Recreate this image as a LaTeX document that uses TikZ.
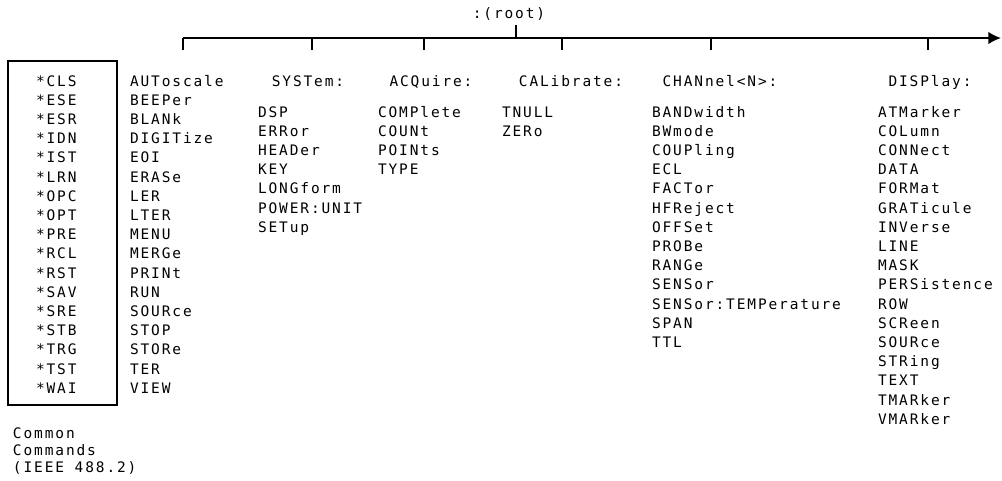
\documentclass[tikz,border=0pt]{standalone}
\usepackage{fontspec}
\usepackage{tikz}
\usetikzlibrary{arrows.meta,positioning}
\newfontfamily\hpfont[LetterSpace=13]{DejaVu Sans Mono}

\begin{document}
\begin{tikzpicture}[x=0.025cm, y=-0.025cm,
    every node/.style={inner sep=0pt, outer sep=0pt},
    cmd/.style={anchor=base west, font=\hpfont\fontsize{10.3pt}{12pt}\selectfont},
    hdr/.style={anchor=base, font=\hpfont\fontsize{10.3pt}{12pt}\selectfont},
    tick/.style={line width=0.8pt},
    bus/.style={line width=1.4pt, -{Latex[length=9pt, width=9pt]}}]
    \fill[white] (0,0) rectangle (1002,481);
    \useasboundingbox (0,0) rectangle (1002,481);

    % root of the tree and the bus line
    \node[hdr] (root) at (509,18) {:(root)};
    \coordinate (bus-l) at (183,38);
    \coordinate (bus-r) at (1001,38);
    \coordinate (root-tick) at (516,25);
    \draw[bus] (bus-l) -- (bus-r);
    \draw[tick] (root-tick) -- (root-tick |- bus-l);

    % ticks down to the subsystems
    \foreach \n/\x in {auto/183, sys/312, acq/424, cal/562, chan/711, disp/928} {
        \coordinate (\n-top) at (\x,38);
        \draw[tick] (\n-top) -- ++(0,12);
    }

    % subsystem headings
    \node[hdr] (sys-head) at (308,86) {SYSTem:};
    \node[hdr] (acq-head) at (431,86) {ACQuire:};
    \node[hdr] (cal-head) at (571,86) {CALibrate:};
    \node[hdr] (chan-head) at (720,86) {CHANnel<N>:};
    \node[hdr] (disp-head) at (930,86) {DISPlay:};

    % root level commands
    \foreach \t [count=\i from 0] in {AUToscale, BEEPer, BLANk, DIGITize, EOI, ERASe,
        LER, LTER, MENU, MERGe, PRINt, RUN, SOURce, STOP, STORe, TER, VIEW}
        \node[cmd] (auto-\i) at (130,86+\i*19.2) {\t};

    % commands of each subsystem
    \foreach \t [count=\i from 0] in {DSP, ERRor, HEADer, KEY, LONGform, POWER:UNIT, SETup}
        \node[cmd] (sys-\i) at (258,117+\i*19.2) {\t};
    \foreach \t [count=\i from 0] in {COMPlete, COUNt, POINts, TYPE}
        \node[cmd] (acq-\i) at (378,117+\i*19.2) {\t};
    \foreach \t [count=\i from 0] in {TNULL, ZERo}
        \node[cmd] (cal-\i) at (502,117+\i*19.2) {\t};
    \foreach \t [count=\i from 0] in {BANDwidth, BWmode, COUPling, ECL, FACTor, HFReject,
        OFFSet, PROBe, RANGe, SENSor, SENSor:TEMPerature, SPAN, TTL}
        \node[cmd] (chan-\i) at (652,117+\i*19.2) {\t};
    \foreach \t [count=\i from 0] in {ATMarker, COLumn, CONNect, DATA, FORMat, GRATicule,
        INVerse, LINE, MASK, PERSistence, ROW, SCReen, SOURce, STRing, TEXT, TMARker, VMARker}
        \node[cmd] (disp-\i) at (878,117+\i*19.2) {\t};

    % common commands box
    \node[draw, line width=1.5pt, anchor=north west, minimum width=2.725cm,
          minimum height=8.6cm] (common) at (8,61) {};
    \foreach \t [count=\i from 0] in {*CLS, *ESE, *ESR, *IDN, *IST, *LRN, *OPC, *OPT, *PRE,
        *RCL, *RST, *SAV, *SRE, *STB, *TRG, *TST, *WAI}
        \node[cmd] (cc-\i) at (36,86+\i*19.2) {\t};
    \node[cmd] (cc-lbl1) at (13,438) {Common};
    \node[cmd] (cc-lbl2) at (13,455) {Commands};
    \node[cmd] (cc-lbl3) at (13,472) {(IEEE 488.2)};
\end{tikzpicture}
\end{document}
